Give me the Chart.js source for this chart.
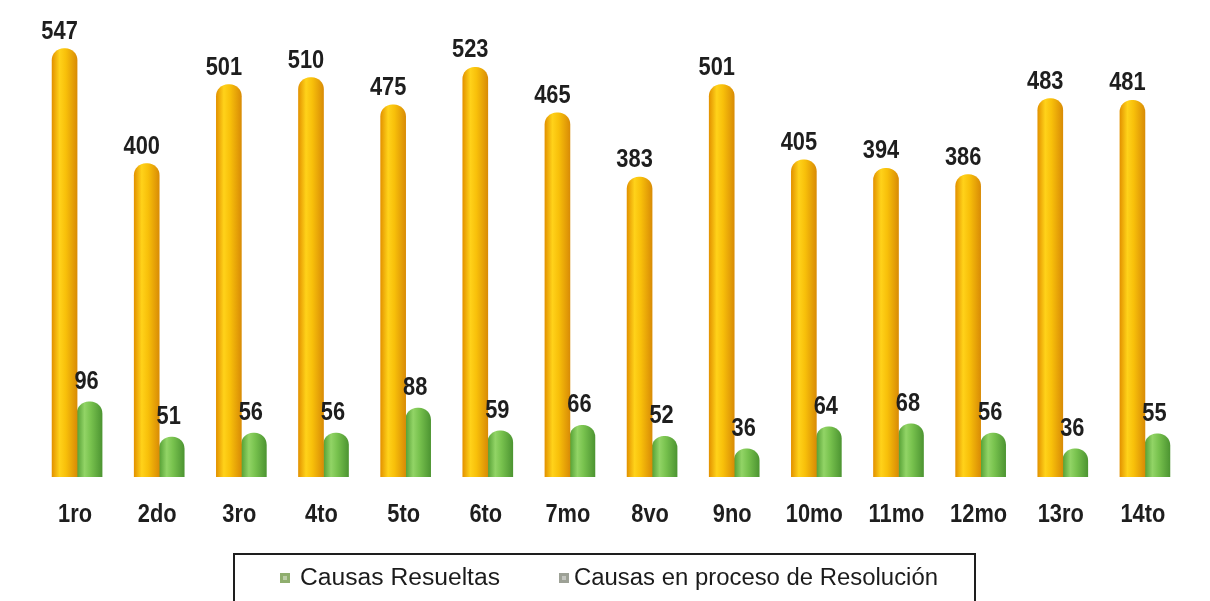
<!DOCTYPE html>
<html>
<head>
<meta charset="utf-8">
<script src="https://cdn.jsdelivr.net/npm/chart.js@4.4.1/dist/chart.umd.min.js"></script>
<style>
  html, body { margin: 0; padding: 0; background: #ffffff; }
  #wrap { width: 1210px; height: 601px; position: relative; }
</style>
</head>
<body>
<div id="wrap"><canvas id="c" width="1210" height="601"></canvas></div>
<script>
// Periods and case counts
const periodos = ['1ro','2do','3ro','4to','5to','6to','7mo','8vo','9no','10mo','11mo','12mo','13ro','14to'];
const causasResueltas = [547, 400, 501, 510, 475, 523, 465, 383, 501, 405, 394, 386, 483, 481];
const causasEnProceso = [96, 51, 56, 56, 88, 59, 66, 52, 36, 64, 68, 56, 36, 55];
const serieNombres = ['Causas Resueltas', 'Causas en proceso de Resolución'];
const leyendaColores = ['#8fae6e', '#9da196'];

const BAR_W = 25;
const LABEL_FONT = 'bold 26px "Liberation Sans", Arial, sans-serif';
const NARROW = 0.84; // horizontal squeeze for the condensed label look

// Cylinder-like horizontal shading for each bar
function cylinderFill(stops, side) {
  return function (ctx) {
    const chart = ctx.chart;
    const xs = chart.scales && chart.scales.x;
    if (!xs || ctx.dataIndex === undefined) return stops[2];
    const cx = xs.getPixelForValue(ctx.dataIndex) + side * BAR_W / 2;
    if (!isFinite(cx)) return stops[2];
    const g = chart.ctx.createLinearGradient(cx - BAR_W / 2, 0, cx + BAR_W / 2, 0);
    g.addColorStop(0, stops[0]);
    g.addColorStop(0.3, stops[1]);
    g.addColorStop(0.55, stops[2]);
    g.addColorStop(1, stops[3]);
    return g;
  };
}

function narrowText(c, text, x, y) {
  c.save();
  c.translate(x, y);
  c.scale(NARROW, 1);
  c.fillText(text, 0, 0);
  c.restore();
}

// Value labels above each bar, category names under the axis
const barTexts = {
  id: 'barTexts',
  afterDatasetsDraw(chart) {
    const c = chart.ctx;
    c.save();
    c.font = LABEL_FONT;
    c.fillStyle = '#1e1e1e';
    c.textAlign = 'center';
    c.textBaseline = 'alphabetic';
    chart.data.datasets.forEach((ds, di) => {
      const meta = chart.getDatasetMeta(di);
      meta.data.forEach((el, i) => {
        const dx = di === 1 ? -3 : -5;
        const gap = di === 1 ? 13 : 10;
        narrowText(c, String(ds.data[i]), el.x + dx, el.y - gap);
      });
    });
    const xs = chart.scales.x;
    chart.data.labels.forEach((lab, i) => {
      narrowText(c, lab, xs.getPixelForValue(i) - 2, chart.chartArea.bottom + 45);
    });
    c.restore();
  }
};

// Boxed legend along the bottom edge
const boxedLegend = {
  id: 'boxedLegend',
  afterDraw(chart) {
    const c = chart.ctx;
    c.save();
    c.strokeStyle = '#1e1e1e';
    c.lineWidth = 2;
    c.strokeRect(234, 554, 741, 70);
    c.font = '23px "Liberation Sans", Arial, sans-serif';
    c.textBaseline = 'middle';
    const items = [
      { marker: 285, text: 300, width: 200 },
      { marker: 564, text: 574, width: 364 }
    ];
    items.forEach((it, k) => {
      c.fillStyle = leyendaColores[k];
      c.fillRect(it.marker - 5, 573, 10, 10);
      c.fillStyle = 'rgba(255,255,255,0.4)';
      c.fillRect(it.marker - 2, 576, 4, 4);
      c.fillStyle = '#1b1b1b';
      const label = serieNombres[k];
      const w = c.measureText(label).width;
      c.save();
      c.translate(it.text, 579);
      c.scale(it.width / w, 1);
      c.fillText(label, 0, 0);
      c.restore();
    });
    c.restore();
  }
};

new Chart(document.getElementById('c'), {
  type: 'bar',
  data: {
    labels: periodos,
    datasets: [
      {
        label: serieNombres[0],
        data: causasResueltas,
        backgroundColor: cylinderFill(['#e39300', '#ffd21a', '#f8c00a', '#d98c06'], -1),
        borderRadius: { topLeft: 12, topRight: 12, bottomLeft: 0, bottomRight: 0 },
        borderSkipped: false,
        barThickness: BAR_W
      },
      {
        label: serieNombres[1],
        data: causasEnProceso,
        backgroundColor: cylinderFill(['#55a035', '#92d466', '#78c24e', '#4d9532'], 1),
        borderRadius: { topLeft: 12, topRight: 12, bottomLeft: 0, bottomRight: 0 },
        borderSkipped: false,
        barThickness: BAR_W
      }
    ]
  },
  options: {
    responsive: false,
    animation: false,
    layout: { padding: { left: 36, right: 24, top: 7, bottom: 124 } },
    plugins: {
      legend: { display: false },
      tooltip: { enabled: false },
      title: { display: false }
    },
    scales: {
      x: {
        grid: { display: false, drawTicks: false },
        border: { display: false },
        ticks: { display: false }
      },
      y: {
        display: false,
        min: 0,
        max: 600
      }
    }
  },
  plugins: [barTexts, boxedLegend]
});
</script>
</body>
</html>
